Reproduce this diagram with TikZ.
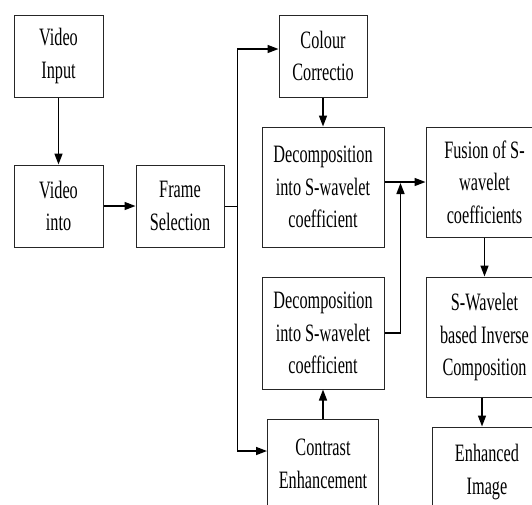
\documentclass[tikz,border=0pt]{standalone}
\usepackage{fontspec}
\setmainfont{Liberation Serif}[FakeStretch=0.65]
\usetikzlibrary{arrows.meta,calc,positioning}

\begin{document}
\begin{tikzpicture}[%
    >={Triangle[length=11pt,width=8pt]},
    on grid,
    block/.style={draw=black!85, line width=1pt, rectangle, align=center,
      inner sep=2pt, font=\fontsize{25}{32.5}\selectfont},
    flow/.style={->, line width=1.5pt}
  ]
  \useasboundingbox (0,0) rectangle (532pt,-504pt);

  \node[block, minimum width=89pt, minimum height=82pt] (in) at (58.5pt,-56pt) {Video\\Input};
  \node[block, minimum width=89pt, minimum height=82pt] (vid) [below=150pt of in] {Video\\into};
  \node[block, minimum width=88pt, minimum height=82pt] (frame) [right=121.5pt of vid] {Frame\\Selection};
  \node[block, minimum width=88pt, minimum height=82pt] (colour) [right=264.5pt of in] {Colour\\Correctio};
  \node[block, minimum width=122pt, minimum height=120pt] (deca) [below=131pt of colour] {Decomposition\\into S-wavelet\\coefficient};
  \node[block, minimum width=122pt, minimum height=112pt] (decb) [below=146pt of deca] {Decomposition\\into S-wavelet\\coefficient};
  \node[block, minimum width=111pt, minimum height=90pt] (contrast) [below=131pt of decb] {Contrast\\Enhancement};
  \node[block, minimum width=117pt, minimum height=110pt] (fusion) [right=161.5pt of deca, yshift=5pt] {Fusion of S-\\wavelet\\coefficients};
  \node[block, minimum width=117pt, minimum height=120pt] (inverse) [below=155pt of fusion] {S-Wavelet\\based Inverse\\Composition};
  \node[block, minimum width=110pt, minimum height=90pt] (out) [below=135pt of inverse, xshift=2.5pt] {Enhanced\\Image};

  % branch after frame selection
  \coordinate (split) at ($(frame.east)+(13pt,0)$);
  \coordinate (join) at ($(deca.east |- fusion.west)+(16pt,0)$);

  \draw[flow] (in) -- (vid);
  \draw[flow] (vid) -- (frame);
  \draw[line width=1pt] (frame.east) -- (split);
  \draw[flow] (split) |- ([yshift=7pt]colour.west);
  \draw[flow] (split) |- ([yshift=13pt]contrast.west);
  \draw[flow] (colour) -- (deca);
  \draw[flow] (deca.east |- fusion.west) -- (fusion.west);
  \draw[flow] (decb.east) -| ([yshift=-1pt]join);
  \draw[flow] (contrast) -- (decb);
  \draw[flow] (fusion) -- (inverse);
  \draw[flow] ([xshift=-2.5pt]inverse.south) -- ([xshift=-2.5pt]inverse.south |- out.north);
\end{tikzpicture}
\end{document}
